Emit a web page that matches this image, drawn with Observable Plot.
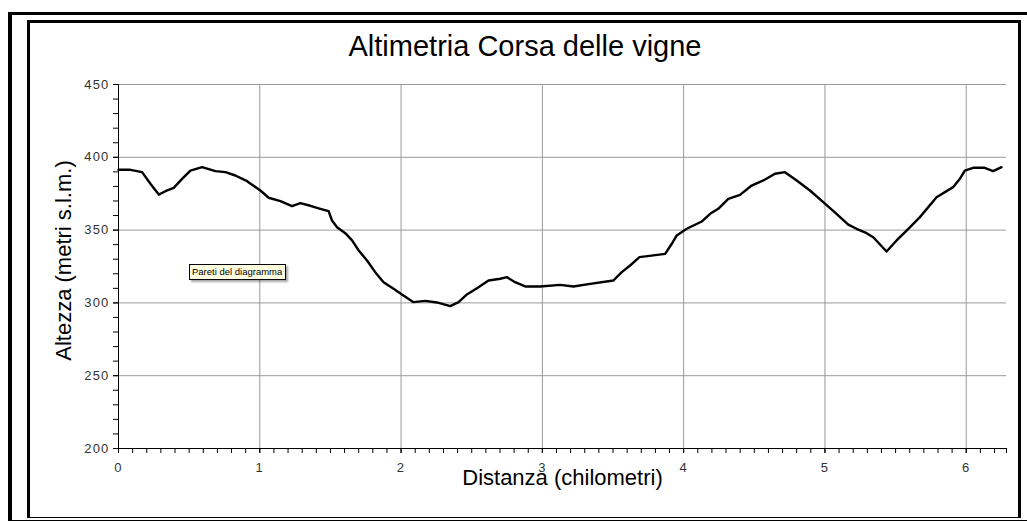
<!DOCTYPE html>
<html>
<head>
<meta charset="utf-8">
<script src="https://cdn.jsdelivr.net/npm/d3@7"></script>
<script src="https://cdn.jsdelivr.net/npm/@observablehq/plot@0.6"></script>
<style>
  html, body { margin: 0; padding: 0; background: #fff; }
  #wrap { position: relative; width: 1027px; height: 522px; overflow: hidden; background: #fff; font-family: "Liberation Sans", Arial, sans-serif; }
  #outer { position: absolute; left: 8px; top: 12px; width: 1100px; height: 509px; box-sizing: border-box; border-left: 4px solid #000; border-top: 3px solid #000; border-bottom: 1px solid #000; }
  #inner { position: absolute; left: 27px; top: 20px; width: 994px; height: 498px; box-sizing: border-box; border-left: 3px solid #000; border-top: 3px solid #000; border-right: 3px solid #000; border-bottom: 1px solid #000; }
  #title { position: absolute; left: 0; width: 1050px; top: 30px; text-align: center; font-size: 29px; color: #000; }
  #chart { position: absolute; left: 0; top: 0; }
  #tip { position: absolute; left: 189px; top: 264px; width: 97px; height: 16px; box-sizing: border-box; background: #ffffe1; border: 1px solid #000; font-size: 9.5px; line-height: 14px; padding-left: 2px; color: #000; box-shadow: 2px 2px 2px rgba(0,0,0,0.35); white-space: nowrap; }
  #chart g[aria-label="y-axis tick label"] text, #chart g[aria-label="x-axis tick label"] text { letter-spacing: 1.2px; }
</style>
</head>
<body>
<div id="wrap">
  <div id="outer"></div>
  <div id="inner"></div>
  <div id="chart"></div>
  <div id="title"></div>
  <div id="tip"></div>
</div>
<script>
const titleText = "Altimetria Corsa delle vigne";
const xLabel = "Distanza (chilometri)";
const yLabel = "Altezza (metri s.l.m.)";
const tipText = "Pareti del diagramma";

// distance (km)
const distanza = [0, 0.085, 0.167, 0.226, 0.285, 0.332, 0.391, 0.45, 0.509, 0.592, 0.686, 0.757, 0.827, 0.91, 1.004, 1.063, 1.146, 1.228, 1.287, 1.358, 1.429, 1.487, 1.511, 1.547, 1.605, 1.653, 1.7, 1.759, 1.817, 1.876, 1.947, 2.006, 2.088, 2.171, 2.254, 2.348, 2.407, 2.466, 2.548, 2.619, 2.702, 2.749, 2.807, 2.878, 2.984, 3.126, 3.22, 3.338, 3.503, 3.562, 3.621, 3.687, 3.786, 3.869, 3.916, 3.951, 4.022, 4.128, 4.187, 4.245, 4.316, 4.399, 4.481, 4.564, 4.646, 4.717, 4.8, 4.894, 4.988, 5.082, 5.165, 5.224, 5.295, 5.342, 5.436, 5.507, 5.578, 5.672, 5.79, 5.907, 5.955, 5.99, 6.049, 6.131, 6.19, 6.25];
// altitude (m a.s.l.)
const altezza = [391.4, 391.4, 389.8, 381.8, 374.4, 376.7, 379, 385.2, 390.9, 393.2, 390.5, 389.8, 387.5, 383.6, 377.2, 372.2, 369.9, 366.4, 368.5, 366.7, 364.6, 363, 356.6, 352, 347.9, 342.9, 336, 329.1, 321.1, 314.2, 309.7, 305.8, 300.5, 301.4, 300.3, 297.8, 300.5, 305.8, 310.8, 315.4, 316.6, 317.7, 314.2, 311.3, 311.3, 312.4, 311.3, 313.1, 315.4, 321.1, 325.7, 331.4, 332.6, 333.7, 340.6, 346.3, 350.9, 355.9, 361.2, 364.6, 371.5, 374.2, 380.6, 384.1, 388.7, 389.8, 384.1, 377.2, 369.2, 361.2, 353.8, 350.9, 347.9, 345.1, 335.3, 342.9, 349.7, 358.9, 372.6, 379.5, 385.2, 390.9, 392.8, 392.8, 390.5, 393.2];

const xDomain = [0, 6.285];
const yDomain = [200, 450];
const xMajorTicks = [0, 1, 2, 3, 4, 5, 6];
const xMinorTicks = [0, 0.1, 0.2, 0.3, 0.4, 0.5, 0.6, 0.7, 0.8, 0.9, 1, 1.1, 1.2, 1.3, 1.4, 1.5, 1.6, 1.7, 1.8, 1.9, 2, 2.1, 2.2, 2.3, 2.4, 2.5, 2.6, 2.7, 2.8, 2.9, 3, 3.1, 3.2, 3.3, 3.4, 3.5, 3.6, 3.7, 3.8, 3.9, 4, 4.1, 4.2, 4.3, 4.4, 4.5, 4.6, 4.7, 4.8, 4.9, 5, 5.1, 5.2, 5.3, 5.4, 5.5, 5.6, 5.7, 5.8, 5.9, 6, 6.1, 6.2, 6.285];
const yMajorTicks = [200, 250, 300, 350, 400, 450];
const yMinorTicks = [200, 210, 220, 230, 240, 250, 260, 270, 280, 290, 300, 310, 320, 330, 340, 350, 360, 370, 380, 390, 400, 410, 420, 430, 440, 450];

const data = distanza.map((d, i) => ({ km: d, m: altezza[i] }));

document.getElementById("title").textContent = titleText;
document.getElementById("tip").textContent = tipText;

const chart = Plot.plot({
  width: 1027,
  height: 522,
  marginLeft: 118,
  marginRight: 21,
  marginTop: 84,
  marginBottom: 74,
  style: { background: "transparent", fontFamily: "Liberation Sans, Arial, sans-serif", color: "#000", overflow: "visible" },
  x: { domain: xDomain },
  y: { domain: yDomain },
  marks: [
    Plot.gridX({ ticks: xMajorTicks.filter(d => d > 0), stroke: "#9a9a9a", strokeOpacity: 1 }),
    Plot.gridY({ ticks: yMajorTicks.filter(d => d > 200), stroke: "#9a9a9a", strokeOpacity: 1 }),
    Plot.axisX({ ticks: xMinorTicks, tickSize: 5, tickFormat: () => "", label: null, stroke: "#000" }),
    Plot.axisX({ ticks: xMajorTicks, tickSize: 5, tickPadding: 9, tickFormat: d3.format("d"), label: null, fontSize: 13, fill: "#333", stroke: "#000" }),
    Plot.axisY({ ticks: yMinorTicks, tickSize: 5, tickFormat: () => "", label: null, stroke: "#000" }),
    Plot.axisY({ ticks: yMajorTicks, tickSize: 5, tickPadding: 4, tickFormat: d3.format("d"), label: null, fontSize: 13, fill: "#333", stroke: "#000" }),
    Plot.ruleY([200], { stroke: "#000", strokeWidth: 1 }),
    Plot.ruleX([0], { stroke: "#000", strokeWidth: 1 }),
    Plot.line(data, { x: "km", y: "m", stroke: "#000", strokeWidth: 2.4, strokeLinejoin: "round" }),
    Plot.text([yLabel], { frameAnchor: "left", textAnchor: "middle", rotate: -90, dx: -55, dy: -6, fontSize: 22, fill: "#000", lineAnchor: "middle" }),
    Plot.text([xLabel], { frameAnchor: "bottom", textAnchor: "middle", dy: 29, fontSize: 22, fill: "#000", lineAnchor: "middle" })
  ]
});
document.getElementById("chart").appendChild(chart);
</script>
</body>
</html>
